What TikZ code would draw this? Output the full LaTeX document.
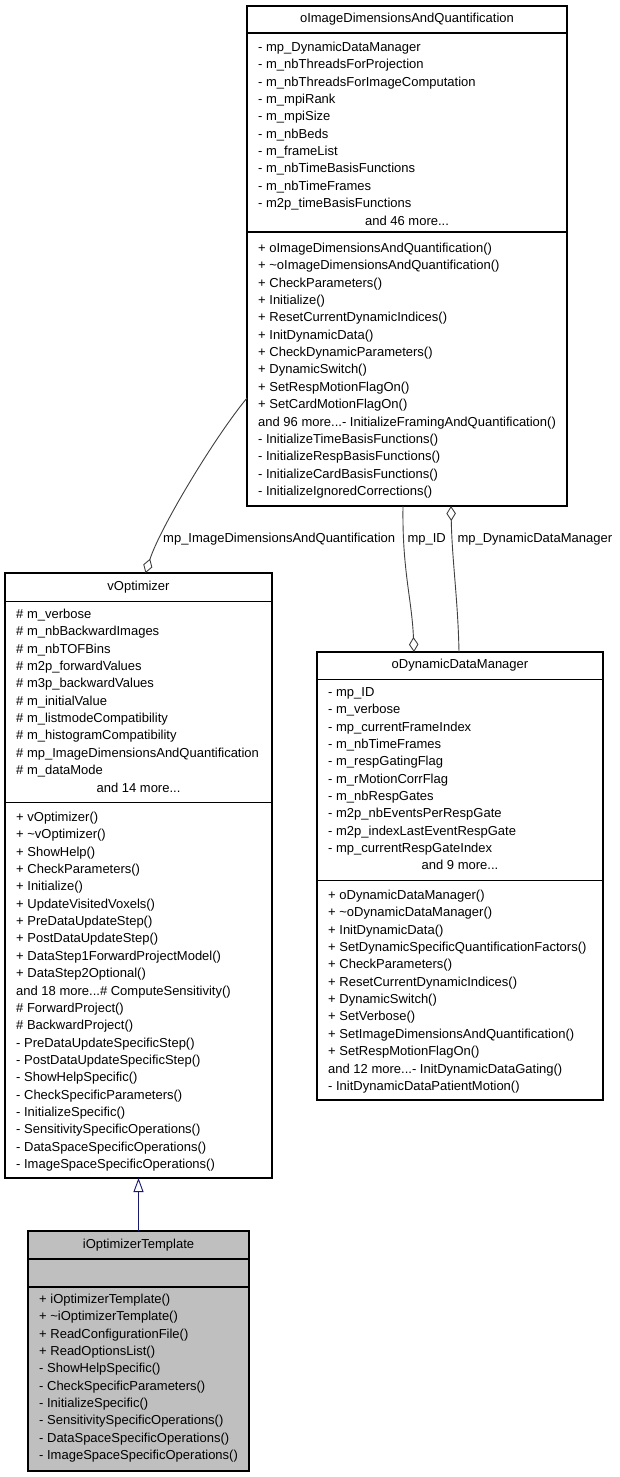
\documentclass[tikz,border=0pt]{standalone}
\usepackage{fontspec}
\setmainfont{Liberation Sans}
\usetikzlibrary{arrows.meta}
\definecolor{edgegray}{HTML}{404040}
\definecolor{midblue}{HTML}{191970}
\definecolor{boxgray}{HTML}{BFBFBF}
\newcommand{\mydots}{...}
\begin{document}
\begin{tikzpicture}[x=1pt,y=-1pt,
  umlbox/.style={draw=black, line width=1.2pt, rectangle, inner sep=0pt, outer sep=0pt, fill=white},
  seprule/.style={draw=black, line width=1.2pt},
  txt/.style={anchor=base west, inner sep=0pt, font=\fontsize{13}{15}\selectfont},
  ttl/.style={anchor=base, inner sep=0pt, font=\fontsize{13}{15}\selectfont},
  lbl/.style={anchor=base west, inner sep=0pt, font=\fontsize{13}{15}\selectfont},
  aggr/.style={draw=edgegray, line width=0.9pt, -{Diamond[open, length=15pt, width=9.5pt]}},
  inh/.style={draw=midblue, line width=0.9pt, -{Triangle[open, length=14pt, width=10pt]}}
]
\fill[white] (0,0) rectangle (619,1477);
\useasboundingbox (0,0) rectangle (619,1477);

% ---------- oImageDimensionsAndQuantification ----------
\node[umlbox, minimum width=320pt, minimum height=500pt] (imgq) at (407,256) {};
\draw[seprule] (imgq.west |- 0,33) -- (imgq.east |- 0,33);
\draw[seprule] (imgq.west |- 0,232) -- (imgq.east |- 0,232);
\node[ttl] (imgqt) at (407,22.5) {oImageDimensionsAndQuantification};
\foreach \t [count=\i from 0] in {
  {- mp\_DynamicDataManager},
  {- m\_nbThreadsForProjection},
  {- m\_nbThreadsForImageComputation},
  {- m\_mpiRank},
  {- m\_mpiSize},
  {- m\_nbBeds},
  {- m\_frameList},
  {- m\_nbTimeBasisFunctions},
  {- m\_nbTimeFrames},
  {- m2p\_timeBasisFunctions}}
  \node[txt] (imgqa\i) at (258,{51.5+17.35*\i}) {\t};
\node[ttl] (imgqam) at (407,{51.5+17.35*10}) {and 46 more\mydots};
\foreach \t [count=\i from 0] in {
  {+ oImageDimensionsAndQuantification()},
  {+ \textasciitilde oImageDimensionsAndQuantification()},
  {+ CheckParameters()},
  {+ Initialize()},
  {+ ResetCurrentDynamicIndices()},
  {+ InitDynamicData()},
  {+ CheckDynamicParameters()},
  {+ DynamicSwitch()},
  {+ SetRespMotionFlagOn()},
  {+ SetCardMotionFlagOn()},
  {and 96 more\mydots- InitializeFramingAndQuantification()},
  {- InitializeTimeBasisFunctions()},
  {- InitializeRespBasisFunctions()},
  {- InitializeCardBasisFunctions()},
  {- InitializeIgnoredCorrections()}}
  \node[txt] (imgqm\i) at (258,{252.5+17.35*\i}) {\t};

% ---------- vOptimizer ----------
\node[umlbox, minimum width=267pt, minimum height=605pt] (vopt) at (138.5,875.5) {};
\draw[seprule] (vopt.west |- 0,601.5) -- (vopt.east |- 0,601.5);
\draw[seprule] (vopt.west |- 0,802.5) -- (vopt.east |- 0,802.5);
\node[ttl] (voptt) at (138.5,590.3) {vOptimizer};
\foreach \t [count=\i from 0] in {
  {\# m\_verbose},
  {\# m\_nbBackwardImages},
  {\# m\_nbTOFBins},
  {\# m2p\_forwardValues},
  {\# m3p\_backwardValues},
  {\# m\_initialValue},
  {\# m\_listmodeCompatibility},
  {\# m\_histogramCompatibility},
  {\# mp\_ImageDimensionsAndQuantification},
  {\# m\_dataMode}}
  \node[txt] (vopta\i) at (16,{618.5+17.35*\i}) {\t};
\node[ttl] (voptam) at (138.5,{618.5+17.35*10}) {and 14 more\mydots};
\foreach \t [count=\i from 0] in {
  {+ vOptimizer()},
  {+ \textasciitilde vOptimizer()},
  {+ ShowHelp()},
  {+ CheckParameters()},
  {+ Initialize()},
  {+ UpdateVisitedVoxels()},
  {+ PreDataUpdateStep()},
  {+ PostDataUpdateStep()},
  {+ DataStep1ForwardProjectModel()},
  {+ DataStep2Optional()},
  {and 18 more\mydots\# ComputeSensitivity()},
  {\# ForwardProject()},
  {\# BackwardProject()},
  {- PreDataUpdateSpecificStep()},
  {- PostDataUpdateSpecificStep()},
  {- ShowHelpSpecific()},
  {- CheckSpecificParameters()},
  {- InitializeSpecific()},
  {- SensitivitySpecificOperations()},
  {- DataSpaceSpecificOperations()},
  {- ImageSpaceSpecificOperations()}}
  \node[txt] (voptm\i) at (16,{821.5+17.35*\i}) {\t};

% ---------- oDynamicDataManager ----------
\node[umlbox, minimum width=286pt, minimum height=448pt] (oddm) at (460,876) {};
\draw[seprule] (oddm.west |- 0,679.5) -- (oddm.east |- 0,679.5);
\draw[seprule] (oddm.west |- 0,880.5) -- (oddm.east |- 0,880.5);
\node[ttl] (oddmt) at (460,668.8) {oDynamicDataManager};
\foreach \t [count=\i from 0] in {
  {- mp\_ID},
  {- m\_verbose},
  {- mp\_currentFrameIndex},
  {- m\_nbTimeFrames},
  {- m\_respGatingFlag},
  {- m\_rMotionCorrFlag},
  {- m\_nbRespGates},
  {- m2p\_nbEventsPerRespGate},
  {- m2p\_indexLastEventRespGate},
  {- mp\_currentRespGateIndex}}
  \node[txt] (oddma\i) at (328,{696.3+17.35*\i}) {\t};
\node[ttl] (oddmam) at (460,{696.3+17.35*10}) {and 9 more\mydots};
\foreach \t [count=\i from 0] in {
  {+ oDynamicDataManager()},
  {+ \textasciitilde oDynamicDataManager()},
  {+ InitDynamicData()},
  {+ SetDynamicSpecificQuantificationFactors()},
  {+ CheckParameters()},
  {+ ResetCurrentDynamicIndices()},
  {+ DynamicSwitch()},
  {+ SetVerbose()},
  {+ SetImageDimensionsAndQuantification()},
  {+ SetRespMotionFlagOn()},
  {and 12 more\mydots- InitDynamicDataGating()},
  {- InitDynamicDataPatientMotion()}}
  \node[txt] (oddmm\i) at (328,{899.5+17.35*\i}) {\t};

% ---------- iOptimizerTemplate ----------
\node[umlbox, fill=boxgray, minimum width=221pt, minimum height=240pt] (iot) at (138.5,1351) {};
\draw[seprule] (iot.west |- 0,1259) -- (iot.east |- 0,1259);
\draw[seprule] (iot.west |- 0,1287) -- (iot.east |- 0,1287);
\node[ttl] (iott) at (138.5,1248) {iOptimizerTemplate};
\foreach \t [count=\i from 0] in {
  {+ iOptimizerTemplate()},
  {+ \textasciitilde iOptimizerTemplate()},
  {+ ReadConfigurationFile()},
  {+ ReadOptionsList()},
  {- ShowHelpSpecific()},
  {- CheckSpecificParameters()},
  {- InitializeSpecific()},
  {- SensitivitySpecificOperations()},
  {- DataSpaceSpecificOperations()},
  {- ImageSpaceSpecificOperations()}}
  \node[txt] (iotm\i) at (39,{1303.3+17.35*\i}) {\t};

% ---------- connectors ----------
\draw[aggr] (imgq.west |- 0,398) .. controls (214,438) and (160,528) .. ([xshift=7pt]vopt.north);
\draw[aggr] ([xshift=-4pt]imgq.south) .. controls (402,570) and (412,600) .. ([xshift=-46pt]oddm.north);
\draw[aggr] ([xshift=-1pt]oddm.north) .. controls (458,600) and (452,560) .. ([xshift=44pt]imgq.south);
\draw[inh] (iot.north) -- (vopt.south);

\node[lbl] (l1) at (163,542) {mp\_ImageDimensionsAndQuantification};
\node[lbl] (l2) at (407.3,542) {mp\_ID};
\node[lbl] (l3) at (457.3,542) {mp\_DynamicDataManager};
\end{tikzpicture}
\end{document}
